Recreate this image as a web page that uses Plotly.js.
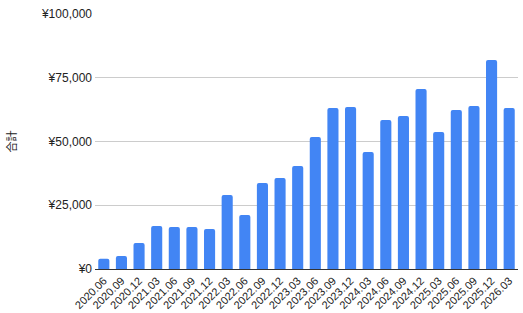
<!DOCTYPE html>
<html><head><meta charset="utf-8">
<script src="https://cdn.plot.ly/plotly-3.0.1.min.js"></script>
<style>html,body{margin:0;padding:0;background:#fff}#c{width:523px;height:313px}</style>
</head><body><div id="c"></div>
<script>
const categories = ["2020.06","2020.09","2020.12","2021.03","2021.06","2021.09","2021.12","2022.03","2022.06","2022.09","2022.12","2023.03","2023.06","2023.09","2023.12","2024.03","2024.06","2024.09","2024.12","2025.03","2025.06","2025.09","2025.12","2026.03"];
const totals = [4000,5100,10200,16900,16500,16500,15700,29000,21200,33700,35700,40400,51800,63100,63500,45900,58400,60000,70600,53700,62400,63900,82000,63100];
const yTicks = [0,25000,50000,75000,100000];
const yTickLabels = ["¥0","¥25,000","¥50,000","¥75,000","¥100,000"];
const yTitle = "合計";

Plotly.newPlot("c", [{
  type: "bar", x: categories, y: totals,
  marker: {color: "#4285F4", cornerradius: 2},
  hoverinfo: "none"
}], {
  width: 523, height: 313,
  margin: {l: 95, r: 5, t: 14, b: 44},
  paper_bgcolor: "#fff", plot_bgcolor: "#fff",
  bargap: 0.37,
  font: {family: "Liberation Sans, Arial, sans-serif", size: 12, color: "#222"},
  xaxis: {type: "category", tickangle: -45, showgrid: false, showline: true, linecolor: "#333", linewidth: 1, ticks: "", ticklabelstandoff: 0, tickfont: {size: 11, color: "#222"}, automargin: false},
  yaxis: {range: [0, 100000], tickvals: yTicks, ticktext: yTickLabels, showgrid: true, gridcolor: "#ccc", zeroline: false, ticks: "", ticklabelstandoff: 2, tickfont: {size: 12, color: "#222"},
    title: {text: yTitle, font: {family: "Noto Sans CJK JP", size: 11, color: "#222"}, standoff: 22}},
  showlegend: false
}, {staticPlot: true});
</script></body></html>
